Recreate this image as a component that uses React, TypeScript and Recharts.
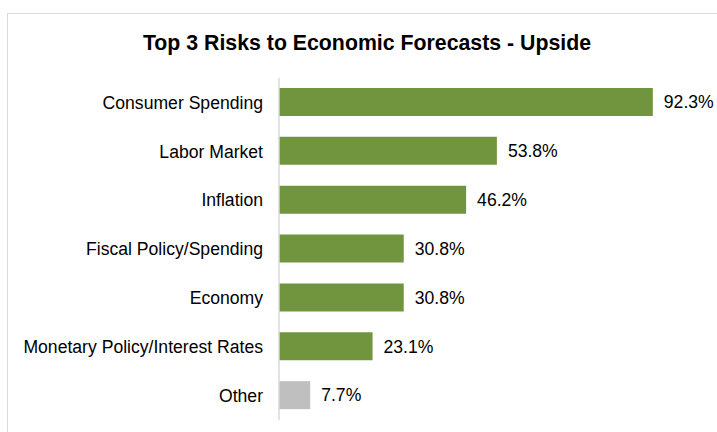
import React from "react";
import { BarChart, Bar, XAxis, YAxis, Cell, LabelList } from "recharts";

const categories = [
  "Consumer Spending",
  "Labor Market",
  "Inflation",
  "Fiscal Policy/Spending",
  "Economy",
  "Monetary Policy/Interest Rates",
  "Other",
];
const shares = [92.3, 53.8, 46.2, 30.8, 30.8, 23.1, 7.7];
const barColors = ["#71943f", "#71943f", "#71943f", "#71943f", "#71943f", "#71943f", "#bfbfbf"];

const data = categories.map((name, i) => ({ name, value: shares[i] }));

const FONT = "'Liberation Sans', Arial, sans-serif";

export default function App() {
  return (
    <div
      style={{
        position: "fixed",
        left: 0,
        top: 0,
        width: 717,
        height: 432,
        overflow: "hidden",
        background: "#fff",
        fontFamily: FONT,
      }}
    >
      {/* chart frame, only top and left edges visible */}
      <div
        style={{
          position: "absolute",
          left: 7,
          top: 13,
          width: 760,
          height: 480,
          border: "1px solid #d9d9d9",
        }}
      />
      <div
        style={{
          position: "absolute",
          left: 0,
          top: 30,
          width: 734,
          textAlign: "center",
          fontWeight: "bold",
          fontSize: 21.3,
          lineHeight: "26px",
          color: "#000",
        }}
      >
        Top 3 Risks to Economic Forecasts - Upside
      </div>
      <div style={{ position: "absolute", left: 0, top: 0 }}>
        <BarChart
          width={717}
          height={432}
          data={data}
          layout="vertical"
          margin={{ top: 78, right: 33, bottom: 12, left: 0 }}
          barSize={28}
        >
          <XAxis type="number" domain={[0, 100]} hide />
          <YAxis
            type="category"
            dataKey="name"
            width={279}
            tickLine={false}
            tickSize={0}
            tickMargin={16}
            axisLine={{ stroke: "#d9d9d9", strokeWidth: 1.5 }}
            tick={{ fill: "#000", fontSize: 17.6, fontFamily: FONT }}
            interval={0}
          />
          <Bar dataKey="value" isAnimationActive={false}>
            {data.map((d, i) => (
              <Cell key={d.name} fill={barColors[i]} />
            ))}
            <LabelList
              dataKey="value"
              position="right"
              offset={11}
              formatter={(v: number) => `${v.toFixed(1)}%`}
              style={{ fill: "#000", fontSize: 17.6, fontFamily: FONT }}
            />
          </Bar>
        </BarChart>
      </div>
    </div>
  );
}
